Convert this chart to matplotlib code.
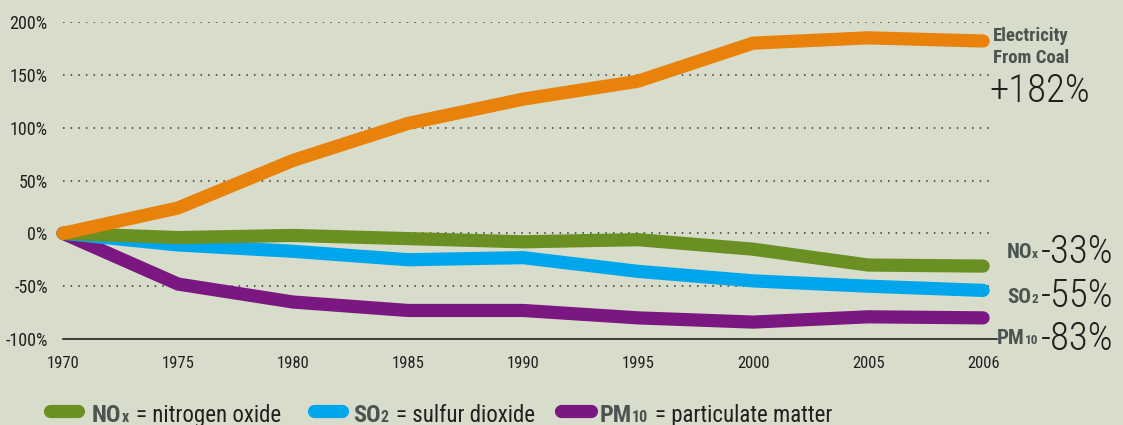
import matplotlib
matplotlib.use("Agg")
import matplotlib.pyplot as plt
from matplotlib import font_manager
from matplotlib.lines import Line2D

# Data (percent change since 1970)
years = ["1970", "1975", "1980", "1985", "1990", "1995", "2000", "2005", "2006"]
coal = [0, 24, 69, 104, 127, 144, 180, 185, 182]
nox = [0, -4, -2, -5, -8, -6, -15, -30, -31]
so2 = [0, -11, -17, -25, -23, -36, -45, -50, -54]
pm10 = [0, -48, -65, -73, -73, -80, -84, -79, -80]
yticks = [-100, -50, 0, 50, 100, 150, 200]

# Colors
bg = "#D8DCCB"
coal_color = "#E8820A"
nox_color = "#6A8F22"
so2_color = "#00A6EB"
pm_color = "#7B1780"
label_gray = "#4B5450"
ink = "#231F20"

names = {f.name for f in font_manager.fontManager.ttflist}
narrow = next(
    (n for n in ["Roboto Condensed", "Liberation Sans Narrow", "DejaVu Sans Condensed"] if n in names),
    "DejaVu Sans",
)
plt.rcParams["font.family"] = [narrow, "DejaVu Sans"]

W, H = 1123, 425
fig = plt.figure(figsize=(W / 100, H / 100), dpi=100, facecolor=bg)
renderer = fig.canvas.get_renderer()


def fx(x):
    return x / W


def fy(y):
    return 1 - y / H


def chain(x, y, parts, align="left"):
    """Place text pieces side by side on one baseline (pixel coords from top-left)."""
    texts, widths, gaps = [], [], []
    for s, size, weight, color, gap in parts:
        t = fig.text(0, fy(y), s, fontsize=size, fontweight=weight,
                     color=color, va="baseline")
        texts.append(t)
        widths.append(t.get_window_extent(renderer).width)
        gaps.append(gap)
    total = sum(widths) + sum(gaps)
    cur = x if align == "left" else x - total
    for t, w, g in zip(texts, widths, gaps):
        cur += g
        t.set_x(fx(cur))
        cur += w


ax = fig.add_axes([fx(63), fy(339), (997 - 63) / W, (339 - 22) / H])
ax.set_facecolor(bg)

xs = list(range(len(years)))
line_kw = dict(linewidth=9.5, solid_capstyle="round", solid_joinstyle="round", clip_on=False)
ax.plot(xs, pm10, color=pm_color, zorder=3, **line_kw)
ax.plot(xs, so2, color=so2_color, zorder=4, **line_kw)
ax.plot(xs, nox, color=nox_color, zorder=5, **line_kw)
ax.plot(xs, coal, color=coal_color, zorder=6, **line_kw)

ax.set_xlim(0.026, 8.121)
ax.set_ylim(-100, 200)
ax.set_xticks(xs)
ax.set_xticklabels(years)
ax.set_yticks(yticks)
ax.set_yticklabels([f"{v}%" for v in yticks])
ax.tick_params(axis="both", length=0, colors=ink)
ax.tick_params(axis="y", pad=11, labelsize=13)
ax.tick_params(axis="x", pad=12, labelsize=12)

for s in ["top", "left", "right"]:
    ax.spines[s].set_visible(False)
ax.spines["bottom"].set_color(ink)
ax.spines["bottom"].set_linewidth(1.2)

for v in yticks[1:]:
    ax.axhline(v, xmin=0, xmax=0.993, color="#333333", linewidth=1.1,
               linestyle=(0, (1, 4)), zorder=1)

# Right-side annotations
fig.text(fx(993), fy(41), "Electricity", fontsize=13.5, fontweight="bold",
         color=label_gray, va="baseline")
fig.text(fx(993), fy(63), "From Coal", fontsize=13.5, fontweight="bold",
         color=label_gray, va="baseline")
fig.text(fx(989), fy(102), "+182%", fontsize=28, fontweight="light",
         color=ink, va="baseline")

end_labels = [
    ("NO", "x", "-33%", 258, 263),
    ("SO", "2", "-55%", 303, 307),
    ("PM", "10", "-83%", 344, 350),
]
for big, sub, num, base, nbase in end_labels:
    chain(1038, base, [(big, 15, "bold", label_gray, 0),
                       (sub, 9.5, "bold", label_gray, 0)], align="right")
    fig.text(fx(1041), fy(nbase), num, fontsize=28, fontweight="light",
             color=ink, va="baseline")

# Legend at the bottom
legend_items = [
    (nox_color, 50, 78, "NO", "x", "= nitrogen oxide", 92),
    (so2_color, 314, 342, "SO", "2", "= sulfur dioxide", 353),
    (pm_color, 561, 591, "PM", "10", "= particulate matter", 600),
]
for color, x0, x1, big, sub, desc, tx in legend_items:
    fig.add_artist(Line2D([fx(x0), fx(x1)], [fy(411), fy(411)], color=color,
                          linewidth=9.5, solid_capstyle="round",
                          transform=fig.transFigure))
    chain(tx, 422, [(big, 17.5, "bold", label_gray, 0),
                    (sub, 11.5, "bold", label_gray, 0),
                    (desc, 16.5, "normal", ink, 7)])

fig.savefig("out.png", dpi=100, facecolor=bg)
